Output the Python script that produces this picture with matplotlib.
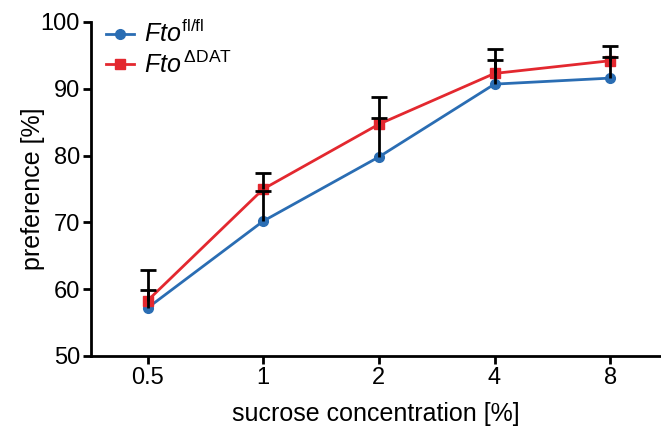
import matplotlib
matplotlib.use("Agg")
import matplotlib.pyplot as plt

# data
concentrations = ["0.5", "1", "2", "4", "8"]
flfl_mean = [57.2, 70.2, 79.8, 90.7, 91.6]
flfl_err = [2.7, 4.5, 5.8, 3.6, 3.2]
dat_mean = [58.3, 75.0, 84.7, 92.3, 94.2]
dat_err = [4.6, 2.4, 4.1, 3.7, 2.2]

plt.rcParams['font.family'] = ['Liberation Sans', 'DejaVu Sans']
plt.rcParams['mathtext.fontset'] = 'custom'
plt.rcParams['mathtext.rm'] = 'Liberation Sans'
plt.rcParams['mathtext.it'] = 'Liberation Sans:italic'

blue = '#2a6db3'
red = '#e3282f'

fig = plt.figure(figsize=(6.61, 4.28), dpi=100)
ax = fig.add_axes([91/661, (428-356)/428, (661-91)/661, (356-22)/428])

x = list(range(len(concentrations)))

ax.plot(x, flfl_mean, color=blue, lw=2, marker='o', ms=7, zorder=2,
        label=r'$\mathit{Fto}^{\mathrm{fl/fl}}$')
ax.plot(x, dat_mean, color=red, lw=2, marker='s', ms=7, zorder=2,
        label=r'$\mathit{Fto}^{\,\mathrm{\Delta DAT}}$')

# upward-only error bars, black, cap only on top
for mean, err in [(flfl_mean, flfl_err), (dat_mean, dat_err)]:
    tops = [m + e for m, e in zip(mean, err)]
    ax.vlines(x, mean, tops, color='black', lw=2, zorder=3)
    ax.plot(x, tops, ls='none', marker='_', ms=11, mew=2, color='black', zorder=3)

ax.set_ylim(50, 100)
ax.set_xlim(-0.49, 4.44)
ax.set_xticks(x)
ax.set_xticklabels(concentrations)
ax.set_yticks([50, 60, 70, 80, 90, 100])

ax.spines['top'].set_visible(False)
ax.spines['right'].set_visible(False)
for s in ['left', 'bottom']:
    ax.spines[s].set_linewidth(2)
ax.tick_params(width=2, length=6, labelsize=17, pad=2)

ax.set_xlabel('sucrose concentration [%]', fontsize=18, labelpad=9)
ax.set_ylabel('preference [%]', fontsize=18, labelpad=-3)

leg = ax.legend(loc='upper left', frameon=False, fontsize=18,
                handlelength=1.1, handletextpad=0.4, labelspacing=0.15,
                borderaxespad=0.2, bbox_to_anchor=(0.0, 1.05))

fig.savefig('out.png', dpi=100)
